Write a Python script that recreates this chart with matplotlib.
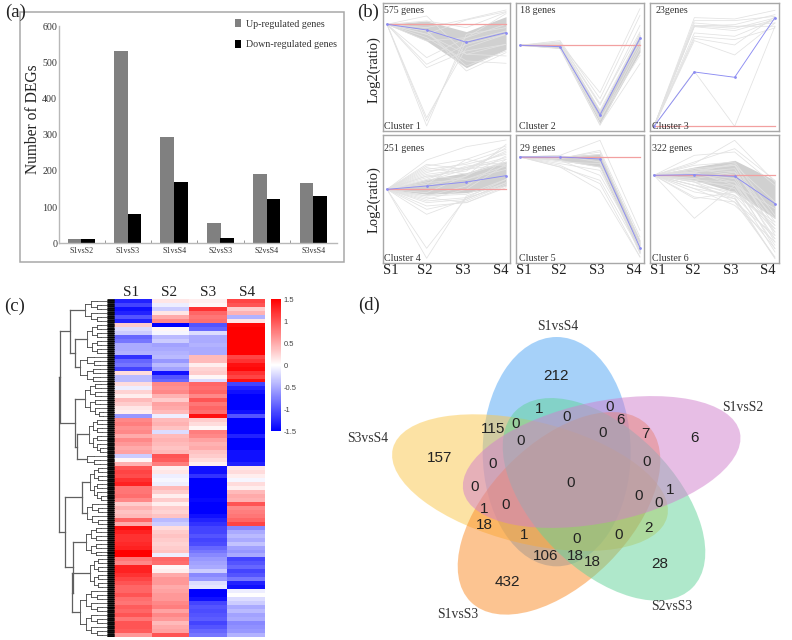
from __future__ import annotations

import matplotlib

matplotlib.use("Agg")

import matplotlib.pyplot as plt
import numpy as np
from matplotlib.colors import LinearSegmentedColormap, Normalize
from matplotlib.cm import ScalarMappable
from matplotlib.patches import Ellipse, Rectangle

WIDTH, HEIGHT = 792, 640
SERIF = "Liberation Serif"
SANS = "Liberation Sans"
FRAME = "#a8a8a8"

# (a) DEG counts
COMPARISONS = ["S1vsS2", "S1vsS3", "S1vsS4", "S2vsS3", "S2vsS4", "S3vsS4"]
UP_GENES = [12, 531, 293, 56, 192, 166]
DOWN_GENES = [12, 80, 169, 15, 123, 131]

# (b) expression profiles, log2 ratio relative to S1
STAGES = ["S1", "S2", "S3", "S4"]
C1_MEAN = [0, -1.7, -5.4, -2.5]
C1_HI = [0, 1.0, -2.2, 2.3]
C1_LO = [0, -5.0, -13.0, -7.5]
C1_LINES = [
    [0, -30.5, -3, -1], [0, -29, -5, -2], [0, -28, -7, -3], [0, -10, -4, 0],
    [0, -12, -6, -3], [0, -13, -8, -6], [0, 2.5, -9, -6], [0, -1, 1.5, 4.3],
    [0, -3, 1.3, 3.8], [0, -4, -11, -11.7], [0, -2, -12.5, -8], [0, 1, -1, 3.6],
    [0, -2, -14, -8.5], [0, -3, -9, -9.5], [0, -5, -4, 3.2],
]
C2_MEAN = [0, -0.4, -20.9, 2.1]
C2_HI = [0, 0.3, -19.5, 3.3]
C2_LO = [0, -0.8, -23.5, -2]
C2_LINES = [
    [0, 1.4, -16, 9], [0, 0.5, -14.2, 11], [0, -1, -23.8, -5.5], [0, 0.8, -18, 6],
    [0, -0.5, -22, -3], [0, -0.9, -24, -1], [0, 0.4, -21, 3.5], [0, 0.2, -20, 1],
    [0, -0.2, -22.5, 0], [0, 0.6, -19.5, 3], [0, 1, -17.5, 4],
]
C3_MEAN = [0, 16.3, 14.7, 32.6]
C3_HI = [0, 0, 0, 0]
C3_LO = [0, 0, 0, 0]
C3_LINES = [
    [0, 32.6, 32.2, 34.8], [0, 31.7, 31.7, 33], [0, 30.1, 29.4, 32.5], [0, 29.9, 28.7, 32],
    [0, 30.3, 29.9, 31], [0, 26.4, 24.4, 32.9], [0, 25.7, 21.4, 31], [0, 16.5, 0, 30],
    [0, 31, 30, 30], [0, 30, 30.5, 33.5], [0, 28, 27, 32], [0, 27, 26, 29.5],
]
C4_MEAN = [0, 1, 2.2, 4.1]
C4_HI = [0, 3, 5, 8.5]
C4_LO = [0, -1.5, -1, 1]
C4_LINES = [
    [0, 8.8, 12.8, 14.8], [0, 7, 9, 13], [0, 6, 7.5, 10.5], [0, 5, 8, 12],
    [0, 4.5, 6, 9], [0, 3.5, 6.5, 11], [0, -3.5, -2.5, 1], [0, -4, -3, 2],
    [0, -5, -4, 0.5], [0, -6, -3.5, 1.5], [0, -7.5, -3, 2], [0, -17.7, -2.5, 3],
    [0, -20.7, -2, 2], [0, -2.5, -4, 1], [0, 2, 3, 6], [0, 4, 3, 7],
    [0, 6.5, 4.5, 8], [0, -1, 4, 10], [0, 1.5, 9, 7], [0, 5.5, 6.5, 9.5],
    [0, 3, 7, 8], [0, 4, 5.5, 12.5], [0, 2.5, 6, 11.5], [0, 7.5, 6, 7.5],
    [0, -2, 1, 9], [0, -3, 0, 7.5], [0, -2, -1.5, 3], [0, 1, 4, 13.5],
]
C5_MEAN = [0, 0, -0.6, -27.2]
C5_HI = [0, 0.2, 1, -25]
C5_LO = [0, -1, -3, -29]
C5_LINES = [
    [0, 0.5, 5, -22], [0, -0.5, 2, -24], [0, -1, -3, -29], [0, -3, -7, -28],
    [0, -2.5, -8, -30], [0, -0.3, 1.5, -26], [0, 0.4, -1.5, -28.5], [0, -2, -4, -27],
    [0, -1, -5.5, -26.5], [0, -0.5, 0.8, -25], [0, -3, -10, -30], [0, -1.5, -2, -27.5],
]
C6_MEAN = [0, 0.2, -0.3, -8.5]
C6_HI = [0, 2.5, 4.5, -1.5]
C6_LO = [0, -1.5, -5, -13]
C6_LINES = [
    [0, 3.5, 10.5, -2], [0, 6, 7, -3], [0, 4, 8, -1.5], [0, -12.9, -3, -10],
    [0, -6.5, -8, -24.5], [0, -5, -7, -22], [0, -4, -9, -20], [0, -3, -7, -25],
    [0, -2, -8, -18], [0, -7, -5, -15], [0, -1, -4, -23], [0, -2, -6, -19],
    [0, 1, -3, -21], [0, 0.5, -2, -16], [0, 2, 1, -13], [0, -3, -6.5, -24.8],
    [0, 1.5, 3, -8], [0, 2, 3, -14], [0, 1, 2, -17], [0, -1, 1, -15],
    [0, 0.5, -1, -19], [0, -2, -3, -17], [0, 2, 0, -20], [0, -3, -5, -16],
    [0, 3, 4, -12], [0, -1.5, -2, -22], [0, 1, 3.5, -18], [0, -4, -6, -14],
]
CLUSTER_TITLES = ["575 genes", "18 genes", "23genes", "251 genes", "29 genes", "322 genes"]

# (c) heatmap rows, top to bottom
HEAT_S1 = [
    -1.3, -1.1, -1.4, -1.3, -1.0, -1.3,
    0.3, -0.2, -0.3, -0.9, -0.8, -0.5, -0.5, -0.45,
    -1.2, -0.9, -0.8, -1.1, 0.2, -0.4, -0.4,
    0.2, -0.1, 0.25, 0.1, 0.4, 0.3, 0.15, 0.1, -0.6,
    0.7, 0.75, 0.65, 0.7, 0.5, 0.7, 0.6, 0.5, 0.55,
    -0.3, 0.05, 0.45,
    1.0, 1.1, 1.05, 1.2, 1.3, 0.8, 0.8, 0.85, 0.7,
    0.3, 0.45, 0.35, 0.4, 0.9, 0.5,
    1.4, 1.3, 1.2, 1.2, 1.25, 1.3, 1.5, 1.5,
    0.8, 0.7, 1.3, 1.3, 1.2, 1.1, 1.0, 0.9,
    0.9, 1.0, 0.85, 0.8, 0.95, 0.9, 1.0, 0.8, 1.0, 1.0, 0.95, 0.6,
]
HEAT_S2 = [
    0.15, -0.1, -0.3, 0.15, 0.5, 0.7,
    -1.5, 0.05, -0.05, -0.4, -0.3, -0.55, -0.5, -0.45,
    -0.4, -0.6, -0.4, -0.55, -1.4, -1.0, -0.9,
    0.7, 0.65, 0.7, 0.45, 0.3, 0.55, 0.5, 0.4, -0.1,
    0.4, 0.45, 0.35, -0.2, 0.4, 0.45, 0.4, 0.35, 0.4,
    1.0, 0.95, 0.75,
    0.1, 0.15, -0.1, -0.05, -0.1, 0.4, 0.3, 0.1, 0.3,
    0.1, 0.3, 0.25, 0.35, -0.4, -0.3,
    0.2, 0.3, 0.35, 0.3, 0.25, 0.3, 0.35, -0.1,
    0.9, 0.85, 0.05, 0.1, 0.5, 0.6, 0.6, 0.5,
    0.55, 0.6, 0.6, 0.7, 0.75, 0.55, 0.7, 0.6, 0.4, 0.5, 0.55, 1.0,
]
HEAT_S3 = [
    0.1, 0.05, 1.2, 0.9, 0.8, 0.85,
    -1.0, -0.9, -0.2, -0.5, -0.5, -0.45, -0.5, -0.5,
    0.4, 0.4, 0.1, 0.25, 0.3, 0.05, -0.2,
    0.9, 0.85, 0.9, 0.7, 1.0, 0.8, 0.9, 0.85, 1.4,
    0.3, 0.2, 0.05, 0.75, 0.7, 0.55, 0.45, 0.5, 0.35,
    0.3, 0.2, 0.1,
    -1.4, -1.4, -1.2, -1.5, -1.5, -1.5, -1.5, -1.5, -1.45,
    -1.5, -1.5, -1.5, -1.4, -1.3, -1.2,
    -1.1, -1.1, -1.0, -1.1, -1.05, -0.9, -0.8, -0.7,
    -0.6, -0.55, -0.5, -0.3, -0.7, -0.6, -0.2, -0.15,
    -1.5, -1.5, -1.4, -1.1, -1.0, -1.05, -1.0, -0.95, -1.1, -1.0, -0.9, -0.8,
]
HEAT_S4 = [
    1.1, 1.0, 0.3, 0.45, -0.45, 0.15,
    1.45, 1.5, 1.5, 1.5, 1.5, 1.5, 1.5, 1.5,
    1.1, 1.2, 1.4, 1.45, 1.2, 1.1, 1.4,
    -1.1, -1.3, -1.4, -1.5, -1.5, -1.5, -1.5, -1.4, -1.0,
    -1.5, -1.5, -1.5, -1.5, -1.3, -1.5, -1.5, -1.5, -1.4,
    -1.4, -1.4, -1.3,
    0.15, 0.2, 0.1, -0.05, 0.2, 0.1, 0.4, 0.5, 0.45,
    1.0, 0.7, 0.75, 0.8, 0.9, 1.1,
    -0.7, -0.5, -0.4, -0.5, -0.35, -0.55, -0.6, -0.5,
    -1.1, -1.0, -0.9, -1.1, -1.0, -0.8, -1.3, -1.4,
    -0.1, 0.0, -0.2, -0.3, -0.5, -0.4, -0.55, -0.5, -0.7, -0.65, -0.6, -0.45,
]
HEAT_TICKS = [1.5, 1, 0.5, 0, -0.5, -1, -1.5]

# dendrogram: (merge x, child, child), leaf = (group x, row count)
A_TO_C = (70, (85, 6), (75, (87, 8), (80, 7)))
D_TO_F = (75, (85, 9), (77, (89, 9), (87, 3)))
G_TO_K = (65, (82, (90, 9), (87, 6)), (73, (86, 8), (72, (90, 8), (80, 12))))
TREE = (59, (60, A_TO_C, D_TO_F), G_TO_K)

# (d) Venn counts
VENN_COUNTS = [
    "212", "6", "28", "432", "157", "1", "0", "0", "6", "7", "115", "0", "0", "0", "0", "0",
    "0", "1", "0", "0", "0", "1", "0", "18", "1", "0", "106", "18", "18", "0", "2",
]
VENN_NAMES = ["S1vsS4", "S3vsS4", "S1vsS3", "S2vsS3", "S1vsS2"]
VENN_COLORS = ["#4ea5f5", "#fbc74b", "#fb8b25", "#61d399", "#d17fcd"]


def add_axes_px(fig, left, top, right, bottom):
    return fig.add_axes([left / WIDTH, 1 - bottom / HEIGHT, (right - left) / WIDTH, (bottom - top) / HEIGHT])


def plot_bars(fig, page):
    page.add_patch(Rectangle((19.5, 11.5), 324.5, 250.5, fill=False, ec=FRAME, lw=1.1))
    ax = add_axes_px(fig, 58.7, 26, 337.3, 243.3)
    x = np.arange(len(COMPARISONS))
    ax.bar(x - 0.147, UP_GENES, 0.295, color="#808080", label="Up-regulated genes")
    ax.bar(x + 0.147, DOWN_GENES, 0.295, color="black", label="Down-regulated genes")
    ax.set_xlim(-0.49, 5.52)
    ax.set_ylim(0, 600)
    for side in ("top", "right"):
        ax.spines[side].set_visible(False)
    for side in ("left", "bottom"):
        ax.spines[side].set_color("#b8b8b8")
        ax.spines[side].set_linewidth(1.0)
    ax.set_yticks(range(0, 601, 100))
    ax.set_yticklabels(range(0, 601, 100), family=SERIF, fontsize=7.2, color="#333333")
    ax.set_xticks(x)
    ax.set_xticklabels(COMPARISONS, family=SERIF, fontsize=5.8, color="#333333")
    ax.set_xticks(x[:-1] + 0.5, minor=True)
    ax.tick_params(axis="x", which="major", length=0, pad=3)
    ax.tick_params(axis="x", which="minor", length=2, direction="in", color="#888888")
    ax.tick_params(axis="y", length=0, pad=1)
    ax.patch.set_alpha(0)
    ax.legend(
        loc="upper right", bbox_to_anchor=(1.033, 1.074), frameon=False, handlelength=0.6,
        handleheight=0.9, handletextpad=0.5, labelspacing=1.1,
        prop={"family": SERIF, "size": 7.2}, labelcolor="#333333",
    )
    page.text(33, 119, "Number of DEGs", rotation=90, family=SERIF, fontsize=11.2, ha="center", va="center", color="#222222")
    page.text(15.5, 12, "(a)", family=SERIF, fontsize=13.5, ha="center", va="center", color="#222222")


def plot_clusters(fig, page):
    means = [C1_MEAN, C2_MEAN, C3_MEAN, C4_MEAN, C5_MEAN, C6_MEAN]
    highs = [C1_HI, C2_HI, C3_HI, C4_HI, C5_HI, C6_HI]
    lows = [C1_LO, C2_LO, C3_LO, C4_LO, C5_LO, C6_LO]
    lines = [C1_LINES, C2_LINES, C3_LINES, C4_LINES, C5_LINES, C6_LINES]
    ylims = [(-32.1, 6.3), (-25.8, 12.6), (-1.5, 36.9), (-22.2, 16.3), (-31.9, 6.6), (-26.4, 12.1)]
    title_x = [0.006, 0.03, 0.04, 0.006, 0.03, 0.012]
    cluster_x = [0.006, 0.025, 0.012, 0.006, 0.025, 0.012]
    lefts = [383, 516, 650]
    rights = [510, 644, 779]
    tops = [3.3, 135]
    bottoms = [131.3, 263.3]
    title_y = [0.942, 0.898]
    x = np.arange(4)
    for i in range(6):
        col, row = i % 3, i // 3
        ax = add_axes_px(fig, lefts[col], tops[row], rights[col], bottoms[row])
        for profile in lines[i]:
            ax.plot(x, profile, color="#e2e2e2", lw=0.55)
        ax.fill_between(x, lows[i], highs[i], color="#d0d0d0", lw=0)
        ax.axhline(0, xmin=0.03, xmax=0.97, color="#f2a0a0", lw=0.9)
        ax.plot(x, means[i], color="#8c8cf2", lw=0.65, marker="o", ms=1.0)
        ax.set_xlim(-0.1, 3.1)
        ax.set_ylim(*ylims[i])
        ax.set_xticks([])
        ax.set_yticks([])
        for spine in ax.spines.values():
            spine.set_color(FRAME)
            spine.set_linewidth(1.0)
        ax.text(title_x[i], title_y[row], CLUSTER_TITLES[i], transform=ax.transAxes, family=SERIF, fontsize=7.2, color="#333333", va="center")
        ax.text(cluster_x[i], 0.04, f"Cluster {i + 1}", transform=ax.transAxes, family=SERIF, fontsize=7.2, color="#333333", va="center")
    for offset in (390.5, 524, 658):
        for j, px in enumerate((0, 34.5, 72.5, 110)):
            page.text(offset + px, 270.5, STAGES[j], family=SERIF, fontsize=10.5, ha="center", va="center", color="#222222")
    page.text(374, 70, "Log2(ratio)", rotation=90, family=SERIF, fontsize=10.5, ha="center", va="center", color="#222222")
    page.text(374, 200, "Log2(ratio)", rotation=90, family=SERIF, fontsize=10.5, ha="center", va="center", color="#222222")
    page.text(368, 12, "(b)", family=SERIF, fontsize=13.5, ha="center", va="center", color="#222222")


def draw_tree(page, node, row, y0, row_h):
    # returns x and y of this node, plus the next free row
    if isinstance(node[1], int):
        return draw_leaves(page, node[0], node[1], row, y0, row_h)
    x, first, second = node
    x1, y1, row = draw_tree(page, first, row, y0, row_h)
    x2, y2, row = draw_tree(page, second, row, y0, row_h)
    page.plot([x, x], [y1, y2], color="#606060", lw=0.9)
    page.plot([x, x1], [y1, y1], color="#606060", lw=0.9)
    page.plot([x, x2], [y2, y2], color="#606060", lw=0.9)
    return x, (y1 + y2) / 2, row


def draw_leaves(page, x, count, row, y0, row_h):
    if count == 1:
        y = y0 + (row + 0.5) * row_h
        page.plot([x, 114], [y, y], color="#333333", lw=0.5)
        offsets = row_h * np.array([-0.5, -0.33, -0.17, 0, 0.17, 0.33])
        page.hlines(y + offsets, 107, 114, color="black", lw=0.6)
        return x, y, row + 1
    half = count // 2
    step = (106 - x) / (1 + np.log2(count))
    x1, y1, row = draw_leaves(page, x + step, half, row, y0, row_h)
    x2, y2, row = draw_leaves(page, x + step, count - half, row, y0, row_h)
    page.plot([x, x], [y1, y2], color="#444444", lw=0.6)
    page.plot([x, x1], [y1, y1], color="#444444", lw=0.6)
    page.plot([x, x2], [y2, y2], color="#444444", lw=0.6)
    return x, (y1 + y2) / 2, row


def plot_heatmap(fig, page):
    cmap = LinearSegmentedColormap.from_list("bwr_heat", ["#0000ff", "#ffffff", "#ff0000"])
    matrix = np.array([HEAT_S1, HEAT_S2, HEAT_S3, HEAT_S4]).T
    ax = add_axes_px(fig, 114, 299, 265, 637)
    ax.imshow(matrix, cmap=cmap, vmin=-1.5, vmax=1.5, aspect="auto", interpolation="nearest")
    ax.axis("off")
    draw_tree(page, TREE, 0, 299, (637 - 299) / matrix.shape[0])
    for j, px in enumerate((131, 169, 208, 247)):
        page.text(px, 293, STAGES[j], family=SERIF, fontsize=11, ha="center", va="center", color="#222222")
    cax = add_axes_px(fig, 271, 299, 281, 431)
    bar = fig.colorbar(ScalarMappable(Normalize(-1.5, 1.5), cmap), cax=cax, ticks=HEAT_TICKS)
    bar.outline.set_visible(False)
    bar.ax.set_yticklabels([f"{t:g}" for t in HEAT_TICKS], family=SANS, fontsize=5.5, color="#444444")
    bar.ax.tick_params(length=0, pad=2)
    page.text(15, 306, "(c)", family=SERIF, fontsize=13.5, ha="center", va="center", color="#222222")


def plot_venn(fig, page):
    # drawn in the panel's own 3x pixel grid, y downwards
    ax = add_axes_px(fig, 340, 290, 790, 640)
    ax.set_xlim(0, 1350)
    ax.set_ylim(1050, 0)
    ax.axis("off")
    centers = [(650, 485), (570, 578), (657, 670), (792, 628), (785, 516)]
    widths = [444, 848, 750, 750, 848]
    heights = [688, 366, 420, 420, 362]
    angles = [0, 14, -45, 45, -12]
    for c, w, h, a, color in zip(centers, widths, heights, angles, VENN_COLORS):
        ax.add_patch(Ellipse(c, w, h, angle=a, facecolor=color, edgecolor="none", alpha=0.5))
    spots = [
        (648, 258), (1064, 445), (960, 822), (503, 876), (298, 504), (597, 357), (810, 351), (679, 382),
        (842, 391), (915, 432), (460, 416), (526, 402), (541, 454), (789, 429), (459, 522), (920, 516),
        (403, 591), (991, 600), (691, 578), (895, 619), (955, 638), (431, 657), (497, 645), (433, 704),
        (553, 736), (710, 748), (617, 798), (705, 797), (758, 816), (835, 736), (926, 713),
    ]
    for label, (sx, sy) in zip(VENN_COUNTS, spots):
        ax.text(sx, sy, label, family=SANS, fontsize=11, ha="center", va="center", color="#222222")
    name_spots = [(652, 108), (84, 447), (352, 973), (994, 950), (1208, 352)]
    for name, (sx, sy) in zip(VENN_NAMES, name_spots):
        ax.text(sx, sy, name, family=SERIF, fontsize=9.8, ha="center", va="center", color="#333333")
    page.text(369, 305, "(d)", family=SERIF, fontsize=13.5, ha="center", va="center", color="#222222")


def main():
    fig = plt.figure(figsize=(WIDTH / 100, HEIGHT / 100), dpi=100)
    page = fig.add_axes([0, 0, 1, 1], zorder=5)
    page.axis("off")
    plot_bars(fig, page)
    plot_clusters(fig, page)
    plot_heatmap(fig, page)
    plot_venn(fig, page)
    page.set_xlim(0, WIDTH)
    page.set_ylim(HEIGHT, 0)
    fig.savefig("out.png", dpi=100)
    plt.close(fig)


main()
